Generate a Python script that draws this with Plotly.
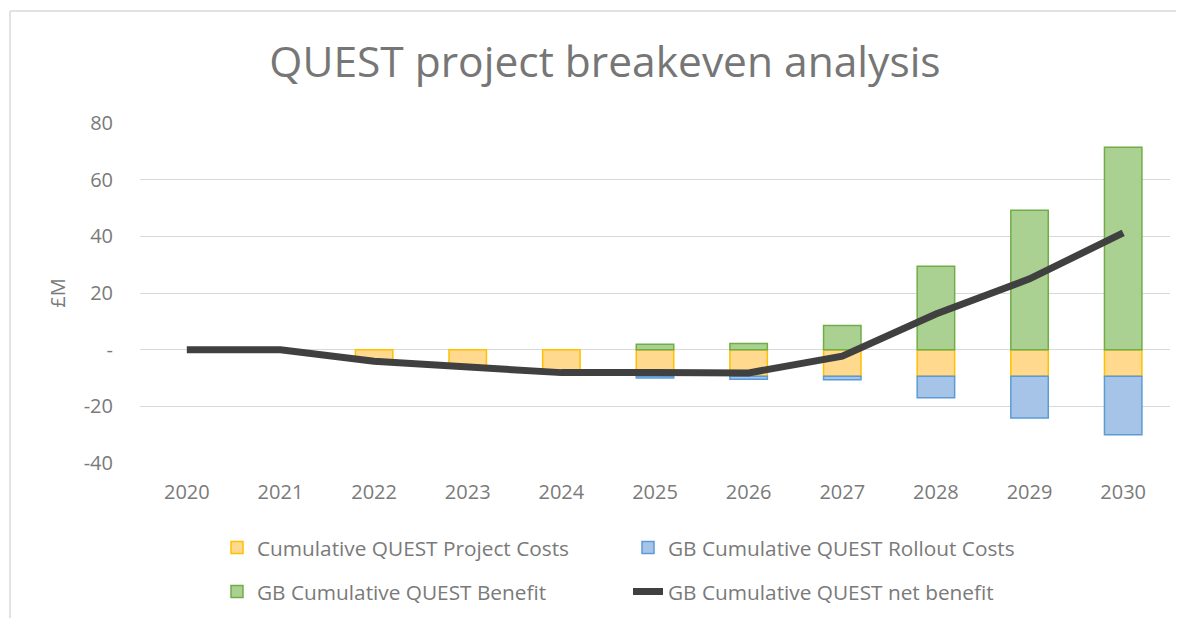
import plotly.graph_objects as go

years = ["2020", "2021", "2022", "2023", "2024", "2025", "2026", "2027", "2028", "2029", "2030"]
project_costs = [None, None, -4.1, -5.9, -8.1, -9.4, -9.4, -9.4, -9.4, -9.4, -9.4]
rollout_costs = [None, None, None, None, None, -0.6, -1.0, -1.2, -7.6, -14.7, -20.6]
benefit = [None, None, None, None, None, 1.9, 2.2, 8.5, 29.4, 49.2, 71.4]
net_benefit = [0, 0, -4.1, -5.9, -8.1, -8.1, -8.2, -2.3, 12.6, 25.0, 41.2]

y_tickvals = [-40, -20, 0, 20, 40, 60, 80]
y_ticktext = ["-40", "-20", "-", "20", "40", "60", "80"]

FONT = "Open Sans"
GREY = "#7a7a7a"

# page has an 8px body margin, so the figure is sized to fit the window
W, H = 1176, 610
L, R, T, B = 132, 14, 115, 155
PW, PH = W - L - R, H - T - B

fig = go.Figure()
fig.add_trace(go.Bar(
    x=years, y=project_costs, name="Cumulative QUEST Project Costs",
    marker=dict(color="#FFD98E", line=dict(color="#FFC000", width=1.5)),
    legend="legend",
))
fig.add_trace(go.Bar(
    x=years, y=rollout_costs, name="GB Cumulative QUEST Rollout Costs",
    marker=dict(color="#A6C3E8", line=dict(color="#5B9BD5", width=1.5)),
    legend="legend",
))
fig.add_trace(go.Bar(
    x=years, y=benefit, name="GB Cumulative QUEST Benefit",
    marker=dict(color="#AAD192", line=dict(color="#70AD47", width=1.5)),
    legend="legend2",
))
fig.add_trace(go.Scatter(
    x=years, y=net_benefit, name="GB Cumulative QUEST net benefit",
    mode="lines", line=dict(color="#404040", width=7),
    legend="legend2",
))

legend_common = dict(
    orientation="h", xanchor="left", yanchor="middle",
    xref="container", yref="container",
    font=dict(family=FONT, size=20.8, color=GREY),
    entrywidth=366, entrywidthmode="pixels",
    bgcolor="rgba(0,0,0,0)", itemclick=False, itemdoubleclick=False,
)

fig.update_layout(
    width=W, height=H,
    margin=dict(l=L, r=R, t=T, b=B),
    paper_bgcolor="white", plot_bgcolor="white",
    barmode="relative", bargap=0.6,
    showlegend=True,
    title=dict(text="QUEST project breakeven analysis", x=597 / W, xanchor="center",
               y=1 - 54 / H, yanchor="middle", yref="container",
               font=dict(family=FONT, size=42.5, color="#767676")),
    legend=dict(**legend_common, x=209 / W, y=1 - 540 / H),
    legend2=dict(**legend_common, x=209 / W, y=1 - 584 / H),
    xaxis=dict(
        type="category", showgrid=False, showline=False, zeroline=False,
        tickfont=dict(family=FONT, size=20, color=GREY), ticks="",
        ticklabelstandoff=15,
    ),
    yaxis=dict(
        range=[-40, 80], tickvals=y_tickvals, ticktext=y_ticktext,
        showgrid=True, gridcolor="#D9D9D9", gridwidth=1.3,
        zeroline=True, zerolinecolor="#D9D9D9", zerolinewidth=1.3,
        showline=False, ticks="",
        tickfont=dict(family=FONT, size=20, color=GREY),
        ticklabelstandoff=26,
        title=dict(text="£M", font=dict(family=FONT, size=20, color=GREY), standoff=12),
    ),
    shapes=[
        dict(type="line", xref="paper", yref="paper",
             x0=(2 - L) / PW, x1=1.1, y0=(H - B - 3) / PH, y1=(H - B - 3) / PH,
             line=dict(color="#D9D9D9", width=1.5)),
        dict(type="line", xref="paper", yref="paper",
             x0=(2 - L) / PW, x1=(2 - L) / PW, y0=(H - B - 3) / PH, y1=-0.5,
             line=dict(color="#D9D9D9", width=1.5)),
    ],
)

fig.write_html("out.html")
